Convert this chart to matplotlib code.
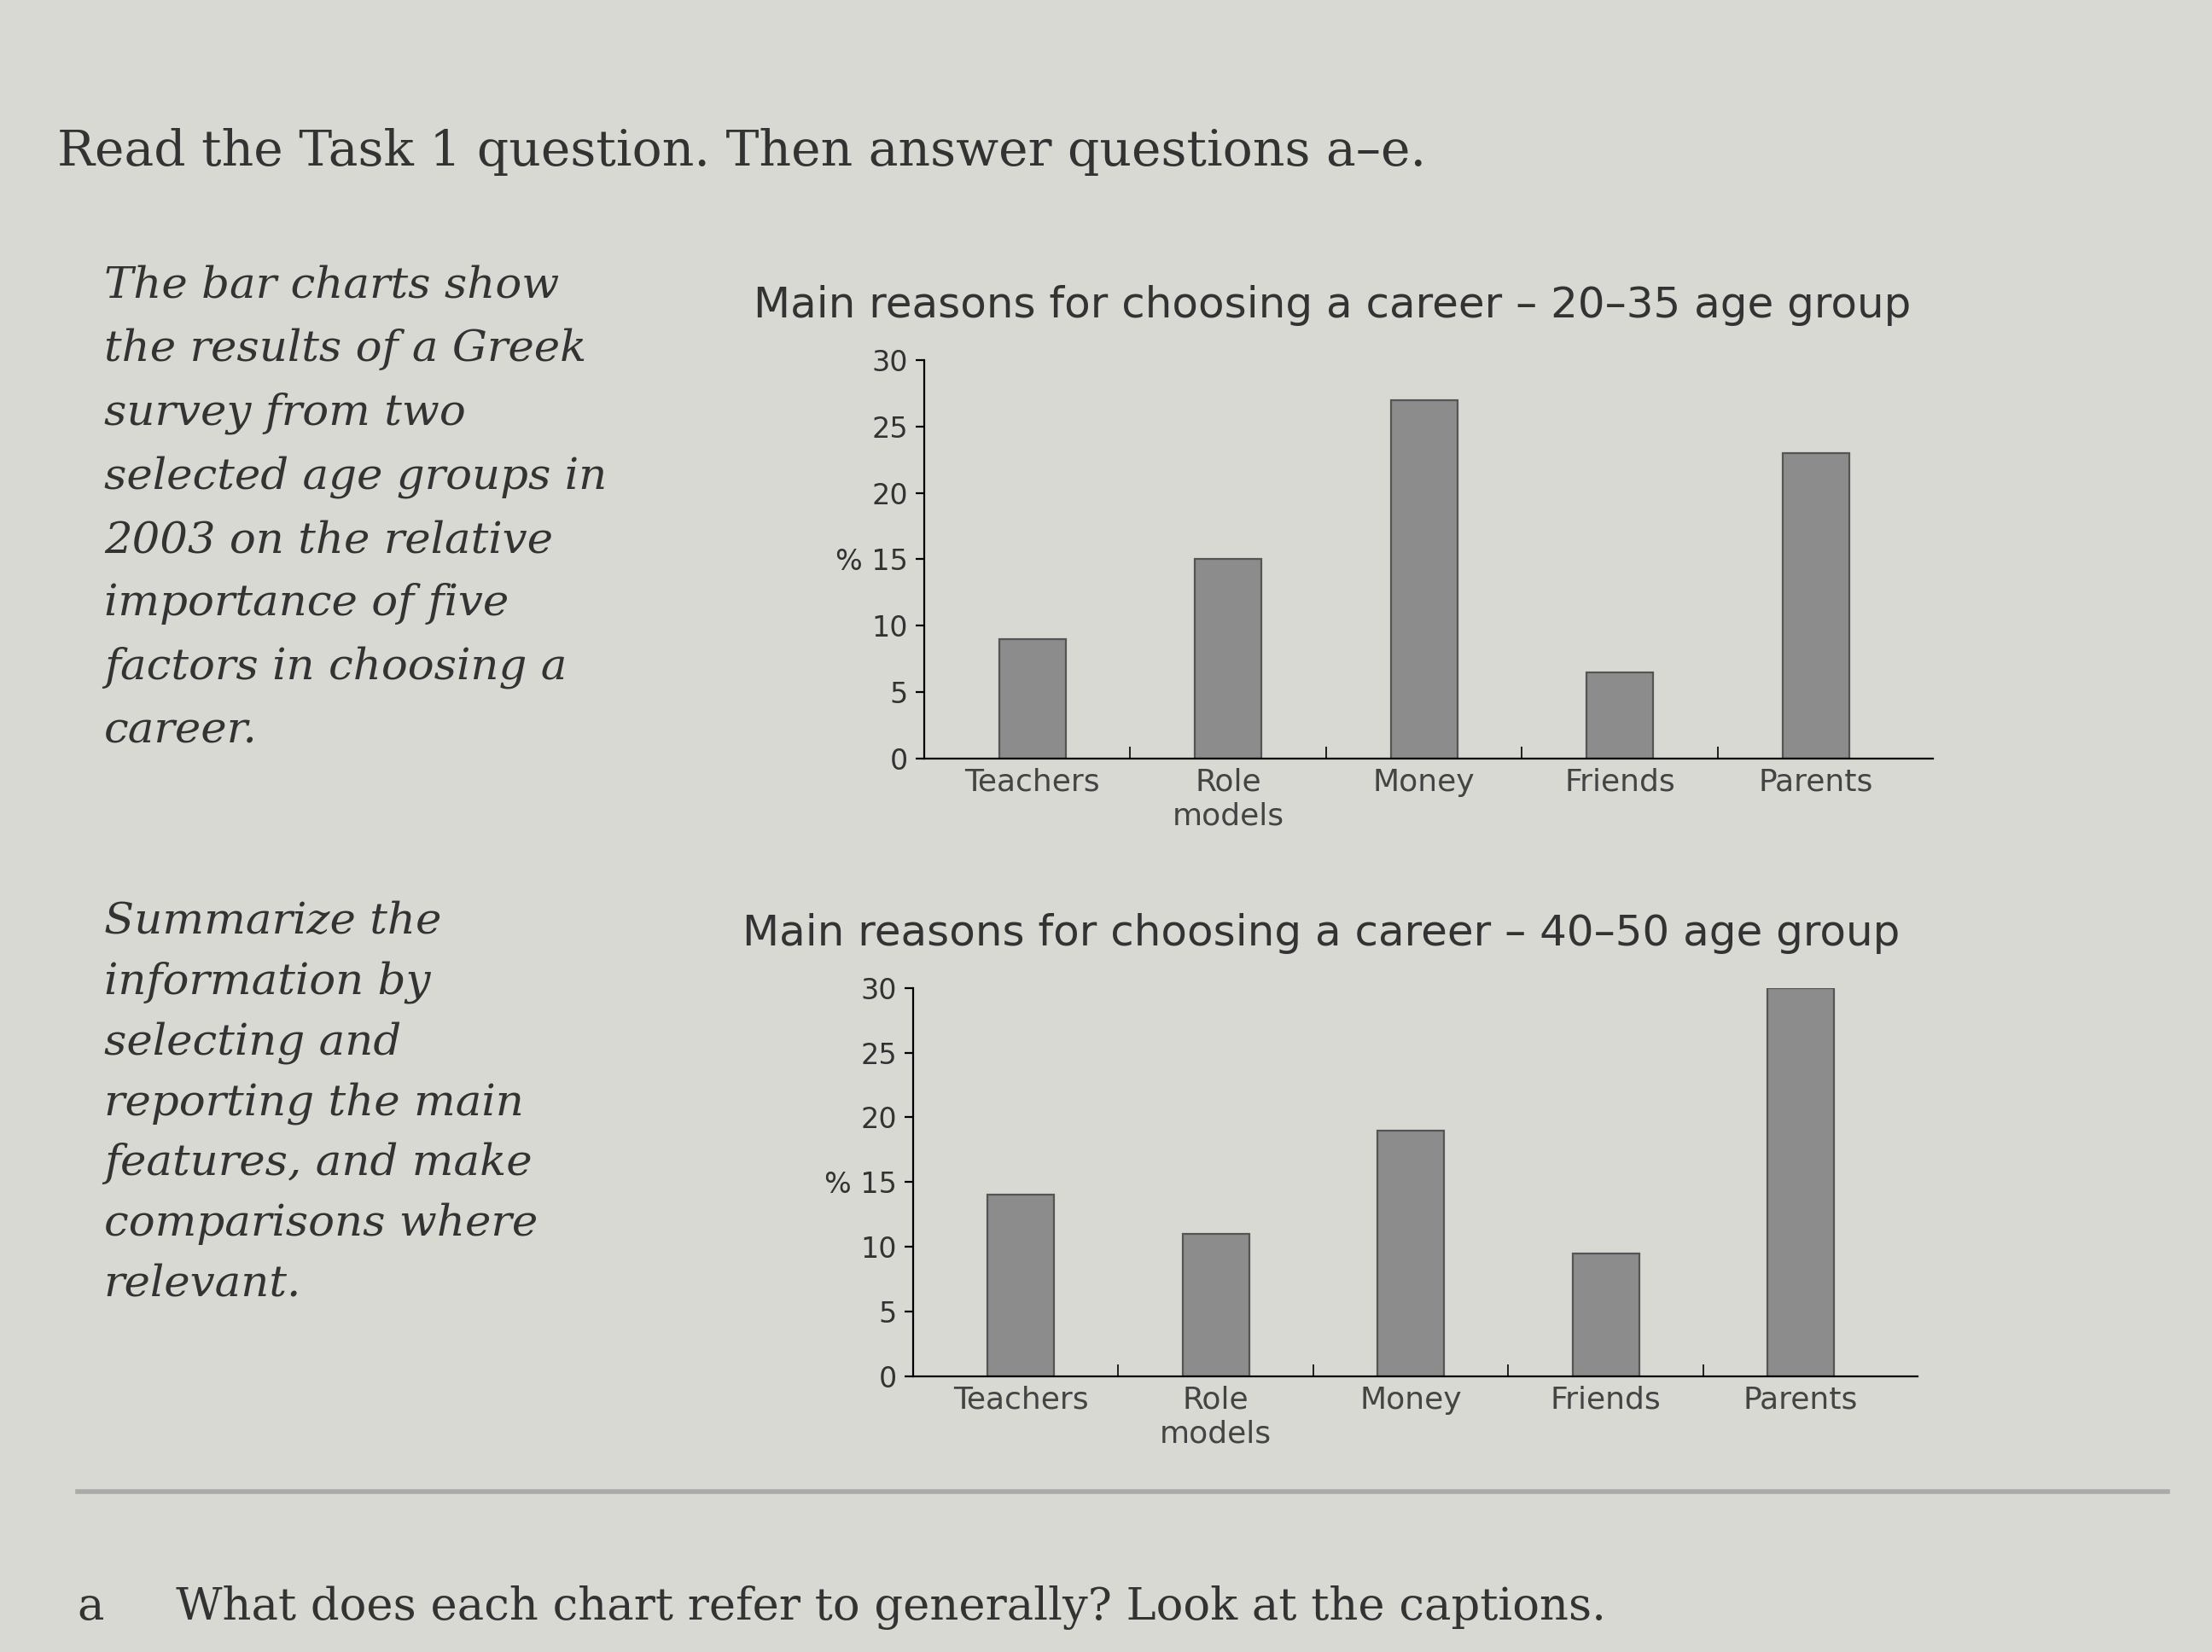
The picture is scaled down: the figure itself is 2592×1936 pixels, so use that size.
import matplotlib
matplotlib.use("Agg")
import matplotlib.pyplot as plt
import numpy as np

categories = ["Teachers", "Role\nmodels", "Money", "Friends", "Parents"]
young_values = [9, 15, 27, 6.5, 23]
older_values = [14, 11, 19, 9.5, 30]
yticks = [0, 5, 10, 15, 20, 25, 30]
title_young = "Main reasons for choosing a career \u2013 20\u201335 age group"
title_old = "Main reasons for choosing a career \u2013 40\u201350 age group"

bg = "#d9d9d4"
fig = plt.figure(figsize=(12.96, 9.68), dpi=200, facecolor=bg)

fig.text(0.026, 0.908, "Read the Task 1 question. Then answer questions a\u2013e.",
         family="DejaVu Serif", fontsize=21, color="#333333", va="center")

para1 = ("The bar charts show\nthe results of a Greek\nsurvey from two\nselected age groups in\n"
         "2003 on the relative\nimportance of five\nfactors in choosing a\ncareer.")
para2 = ("Summarize the\ninformation by\nselecting and\nreporting the main\n"
         "features, and make\ncomparisons where\nrelevant.")
fig.text(0.047, 0.84, para1, family="DejaVu Serif", style="italic", fontsize=18.5,
         color="#333333", va="top", linespacing=1.65)
fig.text(0.047, 0.455, para2, family="DejaVu Serif", style="italic", fontsize=18.5,
         color="#333333", va="top", linespacing=1.55)
fig.text(0.035, 0.027, "a     What does each chart refer to generally? Look at the captions.",
         family="DejaVu Serif", fontsize=19, color="#333333", va="center")
fig.add_artist(plt.Line2D([0.035, 0.98], [0.097, 0.097], color="#aaaaaa", lw=2))

def draw(rect, vals, title):
    ax = fig.add_axes(rect, facecolor="none")
    x = np.arange(len(categories))
    ax.bar(x, vals, width=0.34, color="#8c8c8c", edgecolor="#555555", lw=0.8)
    ax.set_ylim(0, 30)
    ax.set_xlim(-0.55, 4.6)
    ax.set_yticks(yticks)
    ax.set_yticklabels([str(t) if t != 15 else "% 15" for t in yticks], fontsize=12, color="#333333")
    ax.set_xticks(x)
    ax.set_xticklabels(categories, fontsize=13, color="#444444")
    ax.tick_params(axis="x", length=0, pad=4)
    ax.set_xticks(x[:-1] + 0.5, minor=True)
    ax.tick_params(axis="x", which="minor", length=5, direction="in")
    ax.spines[["top", "right"]].set_visible(False)
    ax.set_title(title, fontsize=18, color="#333333", pad=18, loc="left", x=-0.17)
    return ax

draw([0.418, 0.541, 0.456, 0.241], young_values, title_young)
draw([0.413, 0.167, 0.454, 0.235], older_values, title_old)

fig.savefig("out.png", dpi=200, facecolor=bg)
